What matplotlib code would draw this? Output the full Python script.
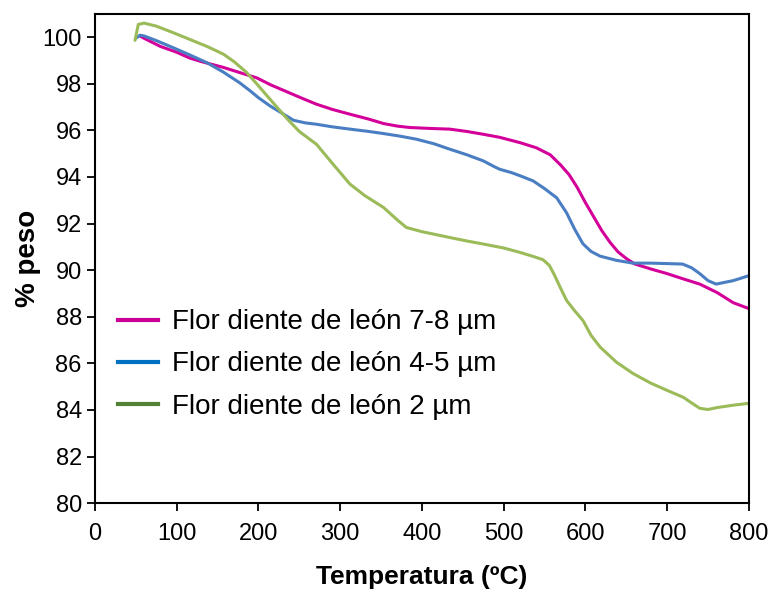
import matplotlib
matplotlib.use('Agg')
import matplotlib.pyplot as plt
from matplotlib.lines import Line2D

plt.rcParams['font.family'] = ['Liberation Sans', 'DejaVu Sans']

# TGA curves (temperature in ºC, % weight)
temp_78 = [55, 60, 80, 100, 116, 130, 157, 175, 198, 215, 235, 255, 271, 290, 312, 335,
           353, 370, 385, 410, 434, 455, 475, 495, 520, 540, 557, 570, 580, 590, 600,
           610, 620, 630, 640, 650, 660, 680, 700, 720, 740, 761, 781, 800]
peso_78 = [100.05, 99.95, 99.6, 99.35, 99.1, 98.95, 98.7, 98.5, 98.25, 97.95, 97.65,
           97.35, 97.12, 96.9, 96.69, 96.48, 96.29, 96.18, 96.12, 96.08, 96.05, 95.95,
           95.83, 95.7, 95.47, 95.25, 94.95, 94.5, 94.1, 93.55, 92.9, 92.3, 91.7, 91.2,
           90.78, 90.5, 90.27, 90.05, 89.85, 89.62, 89.4, 89.04, 88.6, 88.35]

temp_45 = [51, 55, 60, 75, 96, 115, 137, 157, 177, 190, 200, 214, 228, 243, 257, 271,
           290, 312, 335, 353, 373, 393, 415, 434, 455, 475, 488, 495, 510, 520, 536,
           550, 565, 577, 587, 597, 607, 618, 638, 658, 680, 700, 719, 730, 740, 750,
           760, 781, 800]
peso_45 = [99.97, 100.08, 100.05, 99.85, 99.54, 99.25, 98.9, 98.5, 98.04, 97.69, 97.4,
           97.05, 96.75, 96.43, 96.32, 96.26, 96.15, 96.05, 95.95, 95.86, 95.75, 95.62,
           95.42, 95.19, 94.95, 94.69, 94.45, 94.33, 94.18, 94.05, 93.83, 93.5, 93.1,
           92.46, 91.75, 91.13, 90.8, 90.6, 90.42, 90.3, 90.3, 90.28, 90.26, 90.1,
           89.85, 89.55, 89.4, 89.55, 89.76]

temp_2 = [49, 51, 53, 60, 75, 95, 116, 137, 157, 170, 185, 198, 215, 235, 250, 271,
          290, 312, 330, 353, 370, 381, 400, 434, 455, 475, 500, 520, 535, 548, 556,
          562, 570, 577, 587, 597, 607, 618, 638, 658, 680, 700, 720, 730, 740, 750,
          761, 780, 799]
peso_2 = [99.86, 100.2, 100.54, 100.6, 100.47, 100.2, 99.9, 99.6, 99.27, 98.95, 98.5,
          97.99, 97.3, 96.5, 95.95, 95.4, 94.6, 93.69, 93.2, 92.69, 92.15, 91.83, 91.65,
          91.4, 91.25, 91.12, 90.95, 90.76, 90.6, 90.45, 90.2, 89.8, 89.2, 88.7, 88.25,
          87.84, 87.2, 86.7, 86.05, 85.57, 85.15, 84.84, 84.54, 84.3, 84.07, 84.02,
          84.1, 84.2, 84.28]

labels = ['Flor diente de león 7-8 µm', 'Flor diente de león 4-5 µm', 'Flor diente de león 2 µm']
line_colors = ['#D4009A', '#4A7EC2', '#9BBB59']
legend_colors = ['#CC0099', '#0070C0', '#548235']

fig = plt.figure(figsize=(7.72, 5.99), dpi=100)
ax = fig.add_axes([0.123, 0.160, 0.847, 0.817])

for t, p, c in zip([temp_78, temp_45, temp_2], [peso_78, peso_45, peso_2], line_colors):
    ax.plot(t, p, color=c, linewidth=2.2, solid_capstyle='round')

ax.set_xlim(0, 800)
ax.set_ylim(80, 101)
ax.set_xticks(range(0, 801, 100))
ax.set_yticks(range(80, 101, 2))
ax.tick_params(direction='out', length=6, width=1.3, labelsize=17, colors='black')
ax.tick_params(axis='x', pad=8)
for s in ax.spines.values():
    s.set_linewidth(1.5)
    s.set_color('black')

ax.set_xlabel('Temperatura (ºC)', fontsize=19, fontweight='bold', labelpad=15)
ax.set_ylabel('% peso', fontsize=20, fontweight='bold', labelpad=1)

handles = [Line2D([], [], color=c, linewidth=3) for c in legend_colors]
ax.legend(handles, labels, loc='upper left', bbox_to_anchor=(0.035, 0.396),
          frameon=False, fontsize=20, handlelength=1.45, handletextpad=0.5,
          labelspacing=0.58, borderpad=0, borderaxespad=0)

fig.savefig('out.png', dpi=100, facecolor='white')
